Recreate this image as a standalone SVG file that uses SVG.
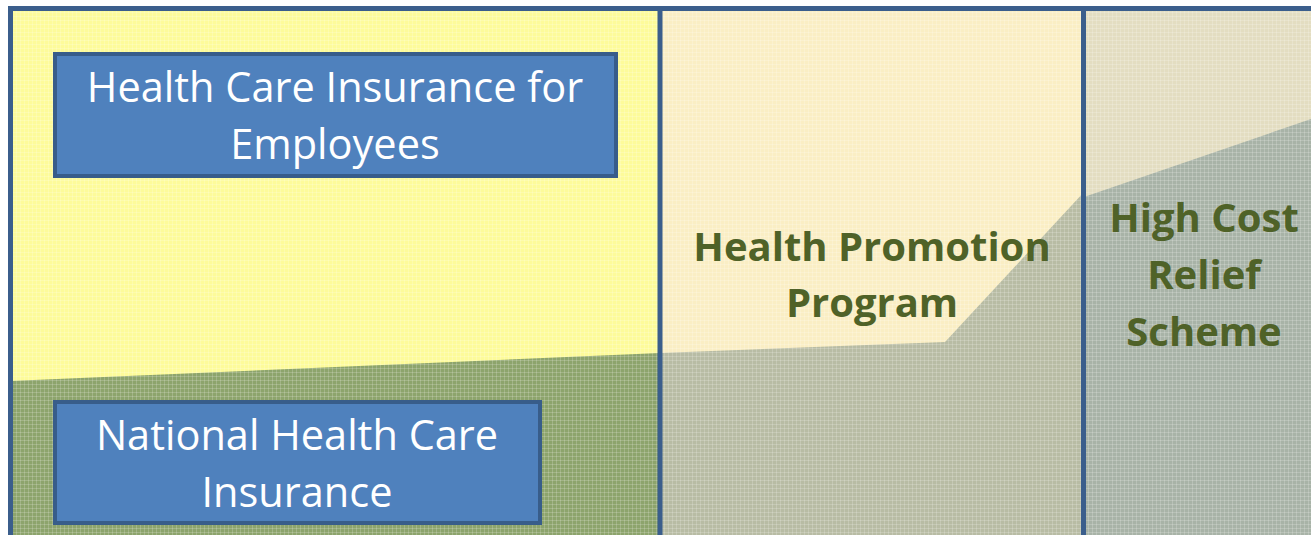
<svg xmlns="http://www.w3.org/2000/svg" width="1311" height="535" viewBox="0 0 1311 535">
<defs>
<pattern id="tex" width="4" height="4" patternUnits="userSpaceOnUse">
<rect x="0" y="0" width="1" height="4" fill="#ffffff" opacity="0.18"/>
<rect x="0" y="0" width="4" height="1" fill="#ffffff" opacity="0.18"/>
</pattern>
</defs>
<style>
.box{fill:#4F81BD;stroke:#385D8A;stroke-width:4}
.wt{font-family:"Open Sans","Liberation Sans",sans-serif;font-size:41.5px;fill:#ffffff;text-anchor:middle}
.gt{font-family:"Open Sans","Liberation Sans",sans-serif;font-size:40px;font-weight:bold;fill:#4F6228;text-anchor:middle}
.div{stroke:#3B5E8C;stroke-width:5;fill:none}
</style>
<rect width="1311" height="535" fill="#ffffff"/>
<g id="background">
<rect x="10" y="8" width="650" height="527" fill="#FDFB9A"/>
<polygon points="10,381 660,353 660,535 10,535" fill="#8DA46C"/>
<rect x="660" y="8" width="424" height="527" fill="#FAEEC4"/>
<polygon points="660,353 945,342 1084,192 1084,535 660,535" fill="#B8BCA4"/>
<rect x="1084" y="8" width="227" height="527" fill="#E3DDC1"/>
<polygon points="1084,197 1311,119 1311,535 1084,535" fill="#A8B3A7"/>
<rect x="10" y="8" width="1301" height="527" fill="url(#tex)"/>
</g>
<g id="frame">
<path class="div" d="M10.5,535 V8.5 H1311"/>
<line class="div" x1="660" y1="8" x2="660" y2="535"/>
<line class="div" x1="1083.5" y1="8" x2="1083.5" y2="535"/>
</g>
<g id="node-employees">
<rect class="box" x="55" y="54" width="561" height="122"/>
<text class="wt" x="335" y="102">Health Care Insurance for</text>
<text class="wt" x="335" y="159">Employees</text>
</g>
<g id="node-national">
<rect class="box" x="55" y="402" width="485" height="121"/>
<text class="wt" x="297" y="450">National Health Care</text>
<text class="wt" x="297" y="507">Insurance</text>
</g>
<g id="node-promotion">
<text class="gt" x="872" y="261">Health Promotion</text>
<text class="gt" x="872" y="317">Program</text>
</g>
<g id="node-highcost">
<text class="gt" x="1204" y="232">High Cost</text>
<text class="gt" x="1204" y="289">Relief</text>
<text class="gt" x="1204" y="346">Scheme</text>
</g>
<g id="connectors"/>
</svg>
